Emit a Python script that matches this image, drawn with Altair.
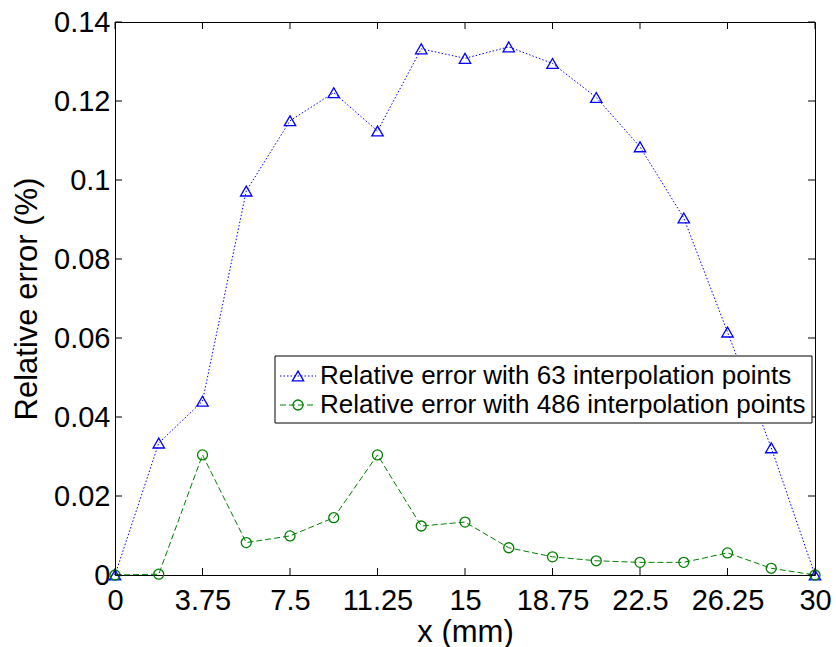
import altair as alt
import pandas as pd

# ---- data ----
x_mm = [0, 1.875, 3.75, 5.625, 7.5, 9.375, 11.25, 13.125, 15, 16.875,
        18.75, 20.625, 22.5, 24.375, 26.25, 28.125, 30]
err_63 = [0, 0.0334, 0.0440, 0.0972, 0.1150, 0.1221, 0.1124, 0.1332, 0.1308,
          0.1337, 0.1295, 0.1209, 0.1084, 0.0904, 0.0615, 0.0322, 0]
err_486 = [0, 0.0002, 0.0304, 0.0082, 0.0099, 0.0145, 0.0304, 0.0124, 0.0134,
           0.0069, 0.0046, 0.0036, 0.0032, 0.0032, 0.0056, 0.0017, 0]
x_ticks = [0, 3.75, 7.5, 11.25, 15, 18.75, 22.5, 26.25, 30]
y_ticks = [0, 0.02, 0.04, 0.06, 0.08, 0.1, 0.12, 0.14]
series_labels = ["Relative error with 63 interpolation points",
                 "Relative error with 486 interpolation points"]

W, H = 700, 553
BLUE, GREEN = "#0000FF", "#008000"
FONT = "Liberation Sans"
TICK = 7

df63 = pd.DataFrame({"x": x_mm, "err": err_63})
df486 = pd.DataFrame({"x": x_mm, "err": err_486})
dfx = pd.DataFrame({"t": x_ticks})
dfy = pd.DataFrame({"t": y_ticks})
one = pd.DataFrame({"k": [0]})

xscale = alt.Scale(domain=[0, 30], nice=False, zero=False)
yscale = alt.Scale(domain=[0, 0.14], nice=False, zero=False)
xaxis = alt.Axis(values=x_ticks, labelExpr="format(datum.value, '.6~g')", labelFlush=False,
                 labelOverlap=False, labelPadding=11, titlePadding=2)
yaxis = alt.Axis(values=y_ticks, labelExpr="format(datum.value, '.6~g')", labelFlush=False,
                 labelOverlap=False, labelPadding=5, titlePadding=10)


def X(f):
    return alt.X(f, type="quantitative", scale=xscale, axis=xaxis, title="x (mm)")


def Y(f):
    return alt.Y(f, type="quantitative", scale=yscale, axis=yaxis, title="Relative error (%)")


line63 = alt.Chart(df63).mark_line(color=BLUE, strokeWidth=1, strokeDash=[1.5, 2]).encode(x=X("x"), y=Y("err"))
pts63 = alt.Chart(df63).mark_point(shape="triangle-up", color=BLUE, filled=False, size=130,
                                   strokeWidth=1.3, opacity=1).encode(x=X("x"), y=Y("err"))
line486 = alt.Chart(df486).mark_line(color=GREEN, strokeWidth=1, strokeDash=[6, 3]).encode(x=X("x"), y=Y("err"))
pts486 = alt.Chart(df486).mark_point(shape="circle", color=GREEN, filled=False, size=100,
                                     strokeWidth=1.3, opacity=1).encode(x=X("x"), y=Y("err"))

# inward tick marks on all four sides
tb = alt.Chart(dfx).mark_rule(color="black", strokeWidth=1).encode(
    x=X("t"), y=alt.value(H), y2=alt.value(H - TICK))
tt = alt.Chart(dfx).mark_rule(color="black", strokeWidth=1).encode(
    x=X("t"), y=alt.value(0), y2=alt.value(TICK))
tl = alt.Chart(dfy).mark_rule(color="black", strokeWidth=1).encode(
    y=Y("t"), x=alt.value(0), x2=alt.value(TICK))
tr = alt.Chart(dfy).mark_rule(color="black", strokeWidth=1).encode(
    y=Y("t"), x=alt.value(W), x2=alt.value(W - TICK))

# legend
LX0, LX1, LY0, LY1 = 160, 697, 334, 401
ROW1, ROW2 = 354, 383
SYM0, SYM1, SYMC, TXT = 165, 201, 183, 205
box = alt.Chart(one).mark_rect(fill="white", stroke="black", strokeWidth=1).encode(
    x=alt.value(LX0), x2=alt.value(LX1), y=alt.value(LY0), y2=alt.value(LY1))
leg1_line = alt.Chart(one).mark_rule(color=BLUE, strokeWidth=1, strokeDash=[1.5, 2]).encode(
    x=alt.value(SYM0), x2=alt.value(SYM1), y=alt.value(ROW1))
leg1_pt = alt.Chart(one).mark_point(shape="triangle-up", color=BLUE, filled=False, size=130,
                                    strokeWidth=1.3, opacity=1).encode(
    x=alt.value(SYMC), y=alt.value(ROW1))
leg1_txt = alt.Chart(one).mark_text(align="left", baseline="middle", font=FONT, fontSize=26,
                                    color="black", text=series_labels[0]).encode(
    x=alt.value(TXT), y=alt.value(ROW1))
leg2_line = alt.Chart(one).mark_rule(color=GREEN, strokeWidth=1, strokeDash=[6, 3]).encode(
    x=alt.value(SYM0), x2=alt.value(SYM1), y=alt.value(ROW2))
leg2_pt = alt.Chart(one).mark_point(shape="circle", color=GREEN, filled=False, size=100,
                                    strokeWidth=1.3, opacity=1).encode(
    x=alt.value(SYMC), y=alt.value(ROW2))
leg2_txt = alt.Chart(one).mark_text(align="left", baseline="middle", font=FONT, fontSize=26,
                                    color="black", text=series_labels[1]).encode(
    x=alt.value(TXT), y=alt.value(ROW2))

chart = alt.layer(
    line63, pts63, line486, pts486, tb, tt, tl, tr,
    box, leg1_line, leg1_pt, leg1_txt, leg2_line, leg2_pt, leg2_txt
).properties(
    width=W, height=H,
    autosize=alt.AutoSizeParams(type="none"),
    padding={"left": 115, "top": 22, "right": 21, "bottom": 72},
    background="white",
).configure_view(
    stroke="black", strokeWidth=1
).configure_axis(
    domain=False, ticks=False, tickSize=0, grid=False,
    labelFont=FONT, labelFontSize=29, labelColor="black",
    titleFont=FONT, titleFontSize=31, titleFontWeight="normal", titleColor="black",
)

chart.save("out.html", embed_options={"renderer": "svg", "actions": False})
